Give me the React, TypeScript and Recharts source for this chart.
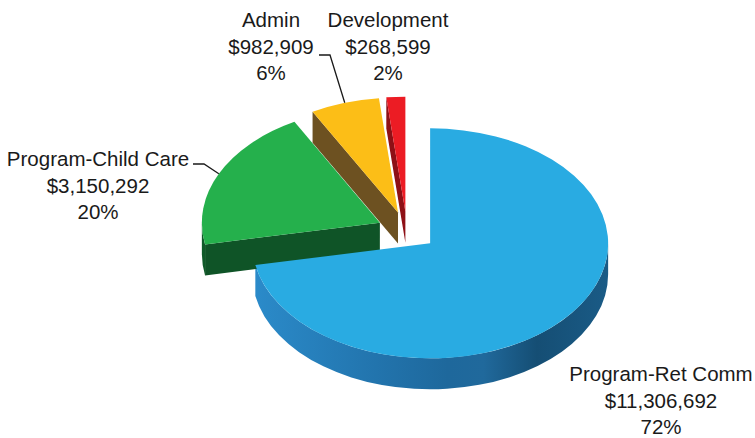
import React from 'react';
import { PieChart, Pie } from 'recharts';

// ---- data ----
const CATEGORIES = ['Program-Ret Comm', 'Program-Child Care', 'Admin', 'Development'];
const AMOUNTS = [11306692, 3150292, 982909, 268599];
const PERCENT_LABELS = ['72%', '20%', '6%', '2%'];

// ---- styles ----
const TOP_COLORS = ['#29ABE2', '#25B04C', '#FCBE17', '#EC1C24'];
const RADIAL_COLORS = ['#1C679A', '#0F5427', '#6D5121', '#8E1016'];
const SIDE_STOPS = [
  [[0, '#2B8BCA'], [0.35, '#2274AD'], [0.55, '#1E689C'], [0.65, '#20699C'], [0.8, '#154E74'], [1, '#1A5B86']],
  [[0, '#0F5A29'], [1, '#0C4A21']],
  [[0, '#6D5121'], [1, '#5E451B']],
  [[0, '#8E1016'], [1, '#7A0D12']],
];
const LABEL_POS = [
  { x: 661, y: 381 },
  { x: 98, y: 166 },
  { x: 271, y: 27 },
  { x: 388, y: 27 },
];
const LEADERS: ({ x: number; y: number } | null)[] = [null, { x: 193, y: 164 }, { x: 319, y: 55 }, null];

const TILT = 0.646;
const DEPTH = 31;
const EXPLODE = 30;
const RAD = Math.PI / 180;
const FONT = '"Liberation Sans", Arial, sans-serif';

const data = CATEGORIES.map((name, i) => ({ name, value: AMOUNTS[i] }));

function geom(p: any) {
  const { cx, cy, outerRadius, startAngle, endAngle } = p;
  const rx = outerRadius;
  const ry = outerRadius * TILT;
  const m = (startAngle + endAngle) / 2;
  const ox = cx + EXPLODE * Math.cos(m * RAD);
  const oy = cy - EXPLODE * Math.sin(m * RAD) * TILT;
  const pt = (a: number, dy = 0): [number, number] => [ox + rx * Math.cos(a * RAD), oy - ry * Math.sin(a * RAD) + dy];
  return { rx, ry, ox, oy, pt, m };
}

const f = (n: number) => n.toFixed(2);

function renderSides(p: any) {
  const { startAngle, endAngle, index } = p;
  const { rx, ry, ox, oy, pt } = geom(p);
  const parts: React.ReactNode[] = [];
  const gid = `sideGrad${index}`;
  const radial = (a: number, key: string) => {
    const [x, y] = pt(a);
    parts.push(
      <path key={key}
        d={`M${f(ox)},${f(oy)} L${f(x)},${f(y)} L${f(x)},${f(y + DEPTH)} L${f(ox)},${f(oy + DEPTH)} Z`}
        fill={RADIAL_COLORS[index]} />
    );
  };
  if (Math.cos(startAngle * RAD) < -1e-6) radial(startAngle, 'rs');
  if (Math.cos(endAngle * RAD) > 1e-6) radial(endAngle, 're');
  const lo = Math.min(startAngle, endAngle);
  const hi = Math.max(startAngle, endAngle);
  for (let k = -2; k <= 1; k++) {
    const a1 = Math.max(lo, -180 + 360 * k);
    const a2 = Math.min(hi, 360 * k);
    if (a2 - a1 > 0.01) {
      const [x2, y2] = pt(a2);
      const [x1, y1] = pt(a1);
      parts.push(
        <path key={`c${k}`}
          d={`M${f(x2)},${f(y2)} A${f(rx)},${f(ry)} 0 0 1 ${f(x1)},${f(y1)} L${f(x1)},${f(y1 + DEPTH)} A${f(rx)},${f(ry)} 0 0 0 ${f(x2)},${f(y2 + DEPTH)} Z`}
          fill={`url(#${gid})`} />
      );
    }
  }
  return (
    <g key={`side${index}`}>
      <defs>
        <linearGradient id={gid} gradientUnits="userSpaceOnUse" x1={ox - rx} y1={0} x2={ox + rx} y2={0}>
          {SIDE_STOPS[index].map(([o, c]: any, j: number) => <stop key={j} offset={o} stopColor={c} />)}
        </linearGradient>
      </defs>
      {parts}
    </g>
  );
}

function renderTop(p: any) {
  const { startAngle, endAngle, index } = p;
  const { rx, ry, ox, oy, pt } = geom(p);
  const [sx, sy] = pt(startAngle);
  const [ex, ey] = pt(endAngle);
  const large = Math.abs(startAngle - endAngle) > 180 ? 1 : 0;
  const sweep = startAngle > endAngle ? 1 : 0;
  return (
    <path key={`top${index}`}
      d={`M${f(ox)},${f(oy)} L${f(sx)},${f(sy)} A${f(rx)},${f(ry)} 0 ${large} ${sweep} ${f(ex)},${f(ey)} Z`}
      fill={TOP_COLORS[index]} />
  );
}

function renderText(p: any) {
  const { index, name, value } = p;
  const { pt, m } = geom(p);
  const pos = LABEL_POS[index];
  const lead = LEADERS[index];
  const money = '$' + Number(value).toLocaleString('en-US');
  let line: React.ReactNode = null;
  if (lead) {
    const [ex, ey] = pt(m);
    line = (
      <path d={`M${lead.x},${lead.y} H${lead.x + 11} L${f(ex)},${f(ey)}`}
        fill="none" stroke="#1a1a1a" strokeWidth={1.3} />
    );
  }
  return (
    <g key={`lbl${index}`}>
      {line}
      <text x={pos.x} y={pos.y} textAnchor="middle" fontFamily={FONT} fontSize={20.5} fill="#1a1a1a">
        <tspan x={pos.x} dy={0}>{name}</tspan>
        <tspan x={pos.x} dy={26.5}>{money}</tspan>
        <tspan x={pos.x} dy={26.5}>{PERCENT_LABELS[index]}</tspan>
      </text>
    </g>
  );
}

export default function App() {
  const common = {
    data,
    dataKey: 'value',
    nameKey: 'name',
    cx: 407,
    cy: 231,
    outerRadius: 178,
    startAngle: 90,
    endAngle: -270,
    isAnimationActive: false,
    fill: 'transparent',
    stroke: 'none',
    labelLine: false,
  } as any;
  return (
    <div style={{ position: 'absolute', left: 0, top: 0, background: '#fff' }}>
      <PieChart width={755} height={438} margin={{ top: 0, right: 0, bottom: 0, left: 0 }}>
        <Pie {...common} label={renderSides} />
        <Pie {...common} label={renderTop} />
        <Pie {...common} label={renderText} />
      </PieChart>
    </div>
  );
}
